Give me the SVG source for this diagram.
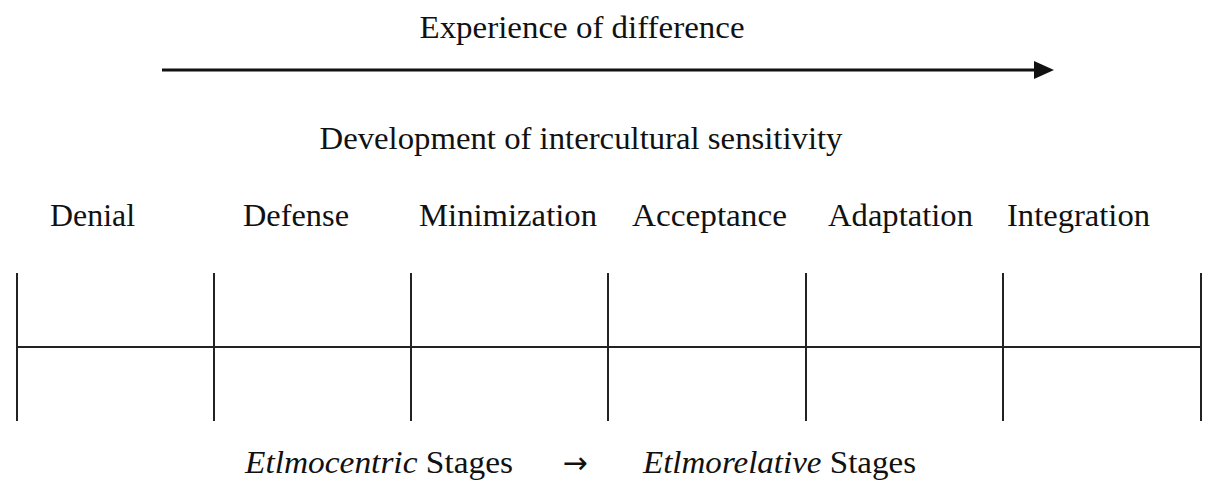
<svg xmlns="http://www.w3.org/2000/svg" width="1208" height="481" viewBox="0 0 1208 481">
<style>
text{font-family:"Liberation Serif","Times New Roman",serif;font-size:32px;fill:#111}
.ln{stroke:#222;stroke-width:2;fill:none}
</style>
<rect width="1208" height="481" fill="#fff"/>
<g id="title-top"><text x="582" y="38" text-anchor="middle" textLength="325" lengthAdjust="spacingAndGlyphs">Experience of difference</text></g>
<g id="connectors">
<line x1="162" y1="70" x2="1036" y2="70" stroke="#111" stroke-width="3"/>
<path d="M1034,61 L1054,70 L1034,79 Z" fill="#111"/>
<line class="ln" x1="17" y1="347" x2="1201" y2="347"/>
<line class="ln" x1="17" y1="273" x2="17" y2="421"/>
<line class="ln" x1="214" y1="273" x2="214" y2="421"/>
<line class="ln" x1="411" y1="273" x2="411" y2="421"/>
<line class="ln" x1="608" y1="273" x2="608" y2="421"/>
<line class="ln" x1="806" y1="273" x2="806" y2="421"/>
<line class="ln" x1="1003" y1="273" x2="1003" y2="421"/>
<line class="ln" x1="1201" y1="273" x2="1201" y2="421"/>
</g>
<g id="title-dev"><text x="581" y="149" text-anchor="middle" textLength="523" lengthAdjust="spacingAndGlyphs">Development of intercultural sensitivity</text></g>
<g id="denial"><text x="50" y="226" textLength="85" lengthAdjust="spacingAndGlyphs">Denial</text></g>
<g id="defense"><text x="243" y="226" textLength="106" lengthAdjust="spacingAndGlyphs">Defense</text></g>
<g id="minimization"><text x="419" y="226" textLength="178" lengthAdjust="spacingAndGlyphs">Minimization</text></g>
<g id="acceptance"><text x="632" y="226" textLength="155" lengthAdjust="spacingAndGlyphs">Acceptance</text></g>
<g id="adaptation"><text x="828" y="226" textLength="145" lengthAdjust="spacingAndGlyphs">Adaptation</text></g>
<g id="integration"><text x="1007" y="226" textLength="143" lengthAdjust="spacingAndGlyphs">Integration</text></g>
<g id="stages">
<text x="245" y="473" textLength="268" lengthAdjust="spacingAndGlyphs"><tspan font-style="italic">Etlmocentric</tspan> Stages</text>
<text x="575" y="473" text-anchor="middle" style="font-family:'DejaVu Sans',sans-serif;font-size:30px">→</text>
<text x="643" y="473" textLength="273" lengthAdjust="spacingAndGlyphs"><tspan font-style="italic">Etlmorelative</tspan> Stages</text>
</g>
</svg>
